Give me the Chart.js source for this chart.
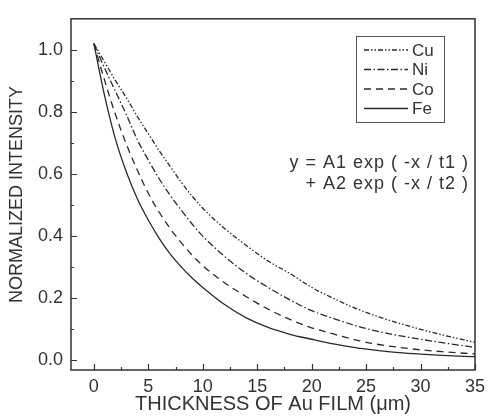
<!DOCTYPE html>
<html>
<head>
<meta charset="utf-8">
<script src="https://cdn.jsdelivr.net/npm/chart.js@4.4.1/dist/chart.umd.min.js"></script>
<style>
  html, body { margin: 0; padding: 0; background: #fff; }
  #chart { display: block; }
</style>
</head>
<body>
<canvas id="chart" width="491" height="416"></canvas>
<script>
// thickness of Au film (um)
const thickness = [0, 1, 2, 3, 4, 5, 6, 7, 8, 9, 10, 12, 14, 16, 18, 20, 22, 24, 26, 28, 30, 32, 34, 35];

// normalized intensity
const cuValues = [1.02, 0.96, 0.90, 0.845, 0.785, 0.73, 0.675, 0.625, 0.575, 0.53, 0.49, 0.425, 0.37, 0.32, 0.28, 0.235, 0.2, 0.168, 0.142, 0.12, 0.10, 0.082, 0.066, 0.058];
const niValues = [1.02, 0.94, 0.865, 0.79, 0.71, 0.645, 0.585, 0.532, 0.485, 0.44, 0.40, 0.335, 0.28, 0.235, 0.195, 0.16, 0.135, 0.112, 0.094, 0.08, 0.068, 0.057, 0.047, 0.042];
const coValues = [1.02, 0.90, 0.79, 0.695, 0.612, 0.538, 0.477, 0.425, 0.38, 0.34, 0.305, 0.25, 0.205, 0.165, 0.132, 0.105, 0.085, 0.066, 0.052, 0.042, 0.034, 0.028, 0.023, 0.021];
const feValues = [1.02, 0.85, 0.71, 0.605, 0.52, 0.452, 0.393, 0.343, 0.302, 0.266, 0.235, 0.18, 0.137, 0.106, 0.084, 0.068, 0.053, 0.041, 0.032, 0.025, 0.02, 0.016, 0.013, 0.012];

const xTicks = [0, 5, 10, 15, 20, 25, 30, 35];
const yTicks = [0, 0.2, 0.4, 0.6, 0.8, 1.0];
const equation = ["y = A1 exp ( -x / t1 )", "+ A2 exp ( -x / t2 )"];

const ink = "#333";
const font = "'Liberation Sans', Arial, sans-serif";

function pts(ys) {
  return thickness.map((x, i) => ({ x: x, y: ys[i] }));
}

function line(label, ys, dash) {
  return {
    label: label,
    data: pts(ys),
    borderColor: "#2a2a2a",
    borderWidth: 1.3,
    borderDash: dash,
    pointRadius: 0,
    fill: false,
    cubicInterpolationMode: "monotone",
  };
}

const data = {
  datasets: [
    line("Cu", cuValues, [5, 2, 1.5, 2, 1.5, 2]),
    line("Ni", niValues, [7, 2.5, 1.5, 2.5]),
    line("Co", coValues, [7, 5]),
    line("Fe", feValues, []),
  ],
};

// frame, inward ticks, legend box and equation
const decorations = {
  id: "decorations",
  afterDraw(chart) {
    const ctx = chart.ctx;
    const a = chart.chartArea;
    const xs = chart.scales.x;
    const ys = chart.scales.y;
    ctx.save();
    ctx.strokeStyle = ink;
    ctx.lineWidth = 1.5;
    ctx.strokeRect(a.left, a.top, a.right - a.left, a.bottom - a.top);

    ctx.lineWidth = 1.2;
    ctx.beginPath();
    for (let v = 0; v <= 35.01; v += 2.5) {
      const px = Math.round(xs.getPixelForValue(v)) + 0.5;
      const len = (v % 5 === 0) ? 6 : 3;
      ctx.moveTo(px, a.bottom);
      ctx.lineTo(px, a.bottom - len);
    }
    for (let i = 0; i <= 10; i++) {
      const v = i / 10;
      const py = Math.round(ys.getPixelForValue(v)) + 0.5;
      const len = (i % 2 === 0) ? 6 : 3;
      ctx.moveTo(a.left, py);
      ctx.lineTo(a.left + len, py);
    }
    ctx.stroke();

    // legend box
    const bx = 356, by = 36, bw = 88, bh = 86;
    ctx.lineWidth = 1;
    ctx.strokeStyle = "#555";
    ctx.strokeRect(bx + 0.5, by + 0.5, bw, bh);
    ctx.font = "17px " + font;
    ctx.fillStyle = ink;
    ctx.textBaseline = "middle";
    ctx.textAlign = "left";
    chart.data.datasets.forEach((ds, i) => {
      const y = by + 14 + i * 19.5;
      ctx.beginPath();
      ctx.strokeStyle = "#2a2a2a";
      ctx.lineWidth = 1.3;
      ctx.setLineDash(ds.borderDash);
      ctx.moveTo(364, y);
      ctx.lineTo(408, y);
      ctx.stroke();
      ctx.setLineDash([]);
      ctx.fillText(ds.label, 412, y + 1);
    });

    // fit formula
    ctx.font = "18px " + font;
    ctx.letterSpacing = "1px";
    ctx.textAlign = "right";
    ctx.fillText(equation[0], 469, 163);
    ctx.fillText(equation[1], 469, 184);
    ctx.restore();
  },
};

const config = {
  type: "line",
  data,
  options: {
    responsive: false,
    animation: false,
    layout: { padding: { top: 7, right: 11, left: 0, bottom: 0 } },
    plugins: { legend: { display: false }, tooltip: { enabled: false } },
    scales: {
      x: {
        type: "linear",
        min: -2.1,
        max: 35,
        afterBuildTicks: (s) => { s.ticks = xTicks.map((v) => ({ value: v })); },
        afterFit: (s) => { s.height = 46; },
        grid: { display: false, drawTicks: false },
        border: { display: false },
        ticks: { color: ink, padding: 6, font: { family: font, size: 18 }, maxRotation: 0 },
        title: {
          display: true,
          text: "THICKNESS OF Au FILM (\u03bcm)",
          color: ink,
          padding: { top: 0, bottom: 0 },
          font: { family: font, size: 20 },
        },
      },
      y: {
        type: "linear",
        min: -0.031,
        max: 1.1,
        afterBuildTicks: (s) => { s.ticks = yTicks.map((v) => ({ value: v })); },
        afterFit: (s) => { s.width = 71; },
        grid: { display: false, drawTicks: false },
        border: { display: false },
        ticks: {
          color: ink,
          padding: 8,
          font: { family: font, size: 18 },
          callback: (v) => Number(v).toFixed(1),
        },
        title: {
          display: true,
          text: "NORMALIZED INTENSITY",
          color: ink,
          padding: { top: 6, bottom: 0 },
          font: { family: font, size: 18 },
        },
      },
    },
  },
  plugins: [decorations],
};

const chart = new Chart(document.getElementById("chart"), config);
</script>
</body>
</html>
